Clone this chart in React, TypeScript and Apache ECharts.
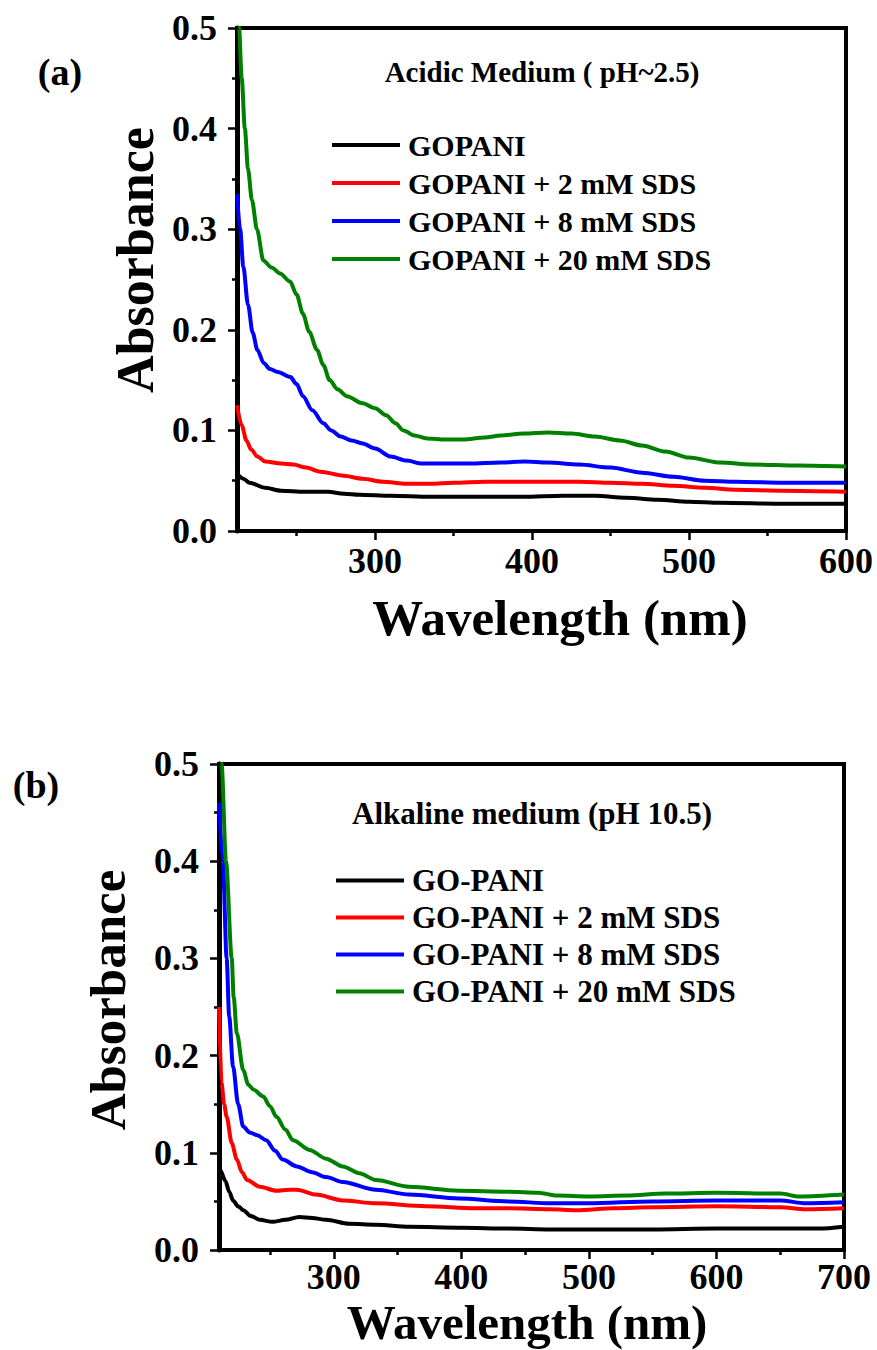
import React, { useEffect, useRef } from "react";
import * as echarts from "echarts";

const FONT = "'Times New Roman', 'Liberation Serif', serif";

// Panel (a): acidic medium, [wavelength nm, absorbance]
const acidicNames = ["GOPANI", "GOPANI + 2 mM SDS", "GOPANI + 8 mM SDS", "GOPANI + 20 mM SDS"];
const acidicGopani = [[212,0.057],[216,0.052],[220,0.048],[230,0.043],[240,0.040],[255,0.039],[270,0.039],[280,0.037],[290,0.036],[310,0.035],[335,0.034],[360,0.034],[394,0.034],[420,0.035],[440,0.035],[460,0.033],[480,0.031],[500,0.029],[520,0.028],[560,0.027],[600,0.027]];
const acidicSds2 = [[212,0.125],[215,0.105],[218,0.090],[221,0.081],[225,0.074],[230,0.069],[240,0.067],[248,0.066],[256,0.063],[265,0.059],[280,0.055],[292,0.052],[305,0.049],[320,0.047],[335,0.047],[350,0.048],[370,0.049],[400,0.049],[430,0.049],[450,0.048],[470,0.047],[490,0.045],[510,0.043],[530,0.041],[560,0.040],[600,0.039]];
const acidicSds8 = [[212,0.335],[214,0.300],[216,0.263],[219,0.225],[222,0.197],[225,0.180],[229,0.167],[233,0.161],[238,0.158],[246,0.153],[250,0.146],[254,0.134],[260,0.120],[267,0.107],[272,0.100],[278,0.094],[285,0.090],[292,0.087],[300,0.082],[310,0.074],[320,0.070],[330,0.067],[345,0.067],[360,0.067],[380,0.068],[395,0.069],[410,0.068],[430,0.066],[450,0.063],[470,0.058],[490,0.054],[510,0.050],[530,0.049],[560,0.048],[600,0.048]];
const acidicSds20 = [[212,0.56],[213.3,0.50],[215,0.45],[217,0.40],[219,0.36],[221.5,0.329],[224.7,0.300],[228.8,0.269],[234,0.262],[239.4,0.256],[245.8,0.248],[250,0.235],[254,0.216],[258,0.198],[263,0.180],[267,0.165],[271,0.150],[276,0.141],[282,0.134],[292,0.127],[300,0.122],[307,0.115],[313,0.107],[318,0.100],[325,0.095],[333,0.092],[345,0.091],[356,0.091],[370,0.093],[380,0.095],[395,0.097],[410,0.098],[425,0.097],[440,0.094],[456,0.090],[470,0.085],[485,0.079],[500,0.073],[520,0.068],[540,0.066],[570,0.065],[600,0.064]];

// Panel (b): alkaline medium, [wavelength nm, absorbance]
const alkalineNames = ["GO-PANI", "GO-PANI + 2 mM SDS", "GO-PANI + 8 mM SDS", "GO-PANI + 20 mM SDS"];
const alkalineGopani = [[210,0.085],[211,0.082],[215,0.071],[218,0.060],[221,0.051],[225,0.045],[229,0.041],[235,0.035],[242,0.031],[252,0.029],[262,0.031],[273,0.034],[283,0.033],[294,0.031],[312,0.027],[333,0.026],[359,0.024],[400,0.023],[437,0.022],[470,0.021],[500,0.021],[550,0.021],[600,0.022],[650,0.022],[680,0.022],[700,0.024]];
const alkalineSds2 = [[210,0.250],[212,0.172],[214,0.150],[216,0.137],[220,0.110],[224,0.093],[228,0.080],[232,0.072],[242,0.065],[255,0.061],[265,0.062],[271,0.062],[286,0.057],[307,0.051],[333,0.048],[372,0.045],[411,0.043],[437,0.043],[470,0.042],[490,0.041],[520,0.043],[550,0.044],[600,0.045],[650,0.044],[670,0.042],[700,0.043]];
const alkalineSds8 = [[210,0.46],[213,0.40],[216,0.30],[218,0.24],[221,0.189],[225,0.150],[229,0.127],[234,0.121],[240,0.118],[247,0.113],[254,0.102],[260,0.093],[271,0.086],[283,0.080],[294,0.075],[307,0.070],[333,0.062],[359,0.057],[398,0.053],[437,0.050],[470,0.048],[500,0.048],[550,0.050],[600,0.051],[650,0.051],[670,0.048],[700,0.049]];
const alkalineSds20 = [[210,0.56],[212,0.50],[215.5,0.40],[220,0.30],[221.5,0.26],[224,0.223],[229,0.185],[233,0.170],[237,0.165],[244.6,0.158],[250,0.148],[255,0.137],[262,0.124],[268,0.113],[281,0.103],[294,0.094],[307,0.086],[320,0.079],[333,0.072],[359,0.065],[398,0.061],[437,0.060],[460,0.059],[475,0.056],[500,0.055],[530,0.056],[560,0.058],[600,0.059],[650,0.058],[665,0.055],[700,0.057]];

const colors = ["#000000", "#ff0000", "#0000ff", "#008000"];

const acidicMajor = [300, 400, 500, 600];
const acidicMinor = [250, 350, 450, 550];
const alkalineMajor = [300, 400, 500, 600, 700];
const alkalineMinor = [250, 350, 450, 550, 650];

const bold = { fontFamily: FONT, fontWeight: "bold" as const, color: "#000" };

function xAxes(gridIndex: number, min: number, max: number, major: number[], minor: number[], margin: number) {
  return [
    {
      type: "value", gridIndex, min, max, position: "bottom",
      axisLine: { show: true, onZero: false, lineStyle: { color: "#000", width: 4 } },
      axisTick: { show: true, customValues: major, length: 9, lineStyle: { color: "#000", width: 2.5 } },
      axisLabel: { show: true, customValues: major, margin, fontSize: 36, ...bold },
      splitLine: { show: false },
    },
    {
      type: "value", gridIndex, min, max, position: "bottom",
      axisLine: { show: false },
      axisTick: { show: true, customValues: minor, length: 5, lineStyle: { color: "#000", width: 2.5 } },
      axisLabel: { show: false },
      splitLine: { show: false },
    },
  ];
}

function yAxis(gridIndex: number) {
  return {
    type: "value", gridIndex, min: 0, max: 0.5, interval: 0.1,
    axisLine: { show: true, onZero: false, lineStyle: { color: "#000", width: 5 } },
    axisTick: { show: true, length: 9, lineStyle: { color: "#000", width: 2.5 } },
    minorTick: { show: true, splitNumber: 2, length: 5, lineStyle: { color: "#000", width: 2.5 } },
    axisLabel: { margin: 20, fontSize: 36, ...bold, formatter: (v: number) => v.toFixed(1) },
    splitLine: { show: false },
  };
}

function lines(names: string[], data: number[][][], axisIndex: number) {
  return data.map((d, i) => ({
    type: "line", name: names[i], data: d,
    xAxisIndex: axisIndex * 2, yAxisIndex: axisIndex,
    showSymbol: false, symbol: "none", smooth: 0.3, smoothMonotone: "x",
    lineStyle: { color: colors[i], width: 4 }, itemStyle: { color: colors[i] },
    clip: true, z: 3,
  }));
}

function legend(names: string[], left: number, top: number, gap: number, size: number) {
  return {
    orient: "vertical", left, top, padding: 0,
    icon: "rect", itemWidth: 68, itemHeight: 4, itemGap: gap,
    selectedMode: false, data: names,
    textStyle: { fontSize: size, ...bold, padding: [0, 0, 0, 3] },
  };
}

function label(text: string, x: number, y: number, size: number, rotation = 0) {
  return {
    type: "text", x, y, rotation,
    style: { text, fontSize: size, fontFamily: FONT, fontWeight: "bold", fill: "#000", align: "center", verticalAlign: "middle" },
  };
}

export default function App() {
  const ref = useRef<HTMLDivElement>(null);
  useEffect(() => {
    const chart = echarts.init(ref.current!, null, { renderer: "svg" });
    chart.setOption({
      animation: false,
      backgroundColor: "#fff",
      grid: [
        { left: 237, top: 28, width: 609, height: 503, show: true, borderColor: "#000", borderWidth: 4, backgroundColor: "transparent" },
        { left: 219, top: 764, width: 625, height: 486, show: true, borderColor: "#000", borderWidth: 4, backgroundColor: "transparent" },
      ],
      xAxis: [
        ...xAxes(0, 212, 600, acidicMajor, acidicMinor, 12),
        ...xAxes(1, 210, 700, alkalineMajor, alkalineMinor, 9),
      ],
      yAxis: [yAxis(0), yAxis(1)],
      legend: [legend(acidicNames, 332, 130, 8, 30), legend(alkalineNames, 336, 865, 6, 31)],
      series: [
        ...lines(acidicNames, [acidicGopani, acidicSds2, acidicSds8, acidicSds20], 0),
        ...lines(alkalineNames, [alkalineGopani, alkalineSds2, alkalineSds8, alkalineSds20], 1),
      ],
      graphic: [
        label("(a)", 60, 72, 38),
        label("(b)", 36, 785, 38),
        label("Acidic Medium ( pH~2.5)", 542, 72, 29),
        label("Alkaline medium (pH 10.5)", 532, 813, 31),
        label("Wavelength (nm)", 560, 618, 51),
        label("Wavelength (nm)", 527, 1322, 49),
        label("Absorbance", 135, 260, 52, Math.PI / 2),
        label("Absorbance", 108, 1000, 51, Math.PI / 2),
      ],
    });
    return () => chart.dispose();
  }, []);
  return (
    <div
      ref={ref}
      style={{ position: "absolute", left: 0, top: 0, width: 877, height: 1350, background: "#fff" }}
    />
  );
}
